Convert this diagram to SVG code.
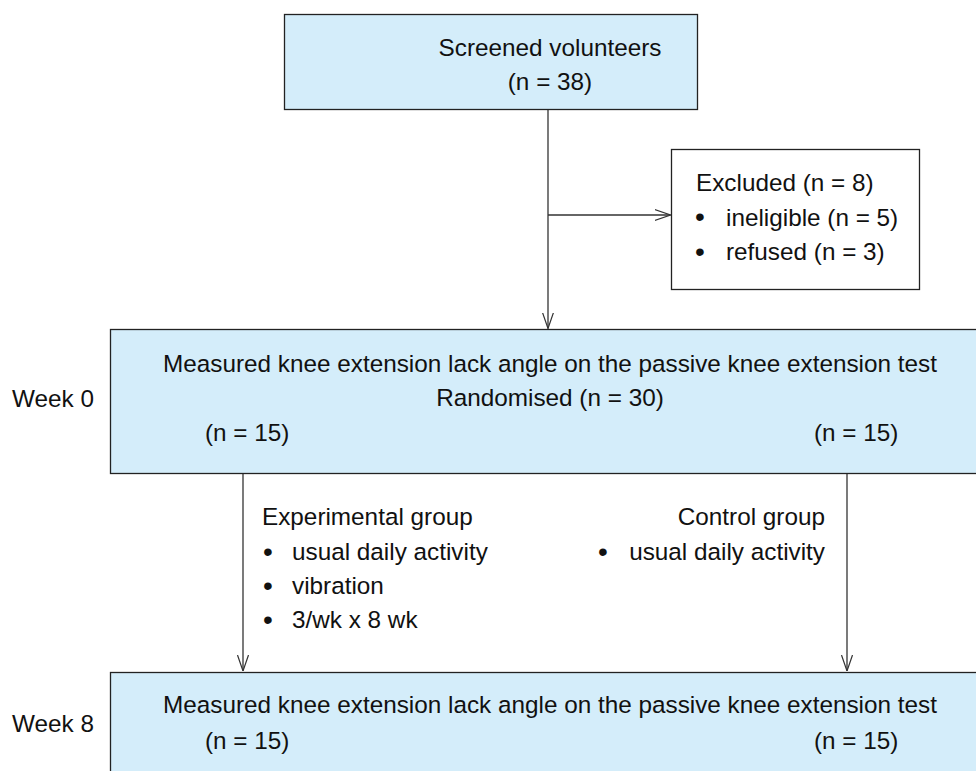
<svg xmlns="http://www.w3.org/2000/svg" width="976" height="771" viewBox="0 0 976 771">
<style>
text{font-family:"Liberation Sans",Arial,sans-serif;font-size:24.3px;fill:#111}
.b{font-size:28px}
.box{fill:#d4edfa;stroke:#222;stroke-width:1.3}
.wbox{fill:#fff;stroke:#222;stroke-width:1.3}
.ln{stroke:#333;stroke-width:1.3;fill:none}
.mid{text-anchor:middle}
.end{text-anchor:end}
</style>
<defs>
<marker id="ah" viewBox="0 0 16 12" refX="16" refY="6" markerWidth="16" markerHeight="12" markerUnits="userSpaceOnUse" orient="auto">
<path d="M0,0.5 L16,6 L0,11.5" fill="none" stroke="#333" stroke-width="1.2"/>
</marker>
</defs>
<rect width="976" height="771" fill="#fff"/>
<g id="connectors">
<line class="ln" x1="548" y1="110" x2="548" y2="328.5" marker-end="url(#ah)"/>
<line class="ln" x1="548" y1="215" x2="670.5" y2="215" marker-end="url(#ah)"/>
<line class="ln" x1="243" y1="474" x2="243" y2="671" marker-end="url(#ah)"/>
<line class="ln" x1="847" y1="474" x2="847" y2="671" marker-end="url(#ah)"/>
</g>
<g id="screened">
<rect class="box" x="284.5" y="14.5" width="413" height="95"/>
<text class="mid" x="550" y="56">Screened volunteers</text>
<text class="mid" x="550" y="90">(n = 38)</text>
</g>
<g id="excluded">
<rect class="wbox" x="671.5" y="149.5" width="248" height="140"/>
<text x="696" y="191">Excluded (n = 8)</text>
<text class="b" x="695" y="226">•</text>
<text x="726" y="225.5">ineligible (n = 5)</text>
<text class="b" x="695" y="260.5">•</text>
<text x="726" y="260">refused (n = 3)</text>
</g>
<g id="week0">
<rect class="box" x="110.5" y="329.5" width="870" height="144"/>
<text class="mid" x="550" y="372">Measured knee extension lack angle on the passive knee extension test</text>
<text class="mid" x="550" y="406">Randomised (n = 30)</text>
<text x="205" y="441">(n = 15)</text>
<text x="814" y="441">(n = 15)</text>
</g>
<g id="week0-label"><text x="12" y="407">Week 0</text></g>
<g id="experimental">
<text x="262" y="525">Experimental group</text>
<text class="b" x="263" y="560.5">•</text>
<text x="292" y="560">usual daily activity</text>
<text class="b" x="263" y="594.5">•</text>
<text x="292" y="594">vibration</text>
<text class="b" x="263" y="628.5">•</text>
<text x="292" y="628">3/wk x 8 wk</text>
</g>
<g id="control">
<text class="end" x="825" y="525">Control group</text>
<text class="b" x="598" y="560.5">•</text>
<text class="end" x="825" y="560">usual daily activity</text>
</g>
<g id="week8">
<rect class="box" x="110.5" y="672.5" width="870" height="110"/>
<text class="mid" x="550" y="713">Measured knee extension lack angle on the passive knee extension test</text>
<text x="205" y="749">(n = 15)</text>
<text x="814" y="749">(n = 15)</text>
</g>
<g id="week8-label"><text x="12" y="732">Week 8</text></g>
</svg>
